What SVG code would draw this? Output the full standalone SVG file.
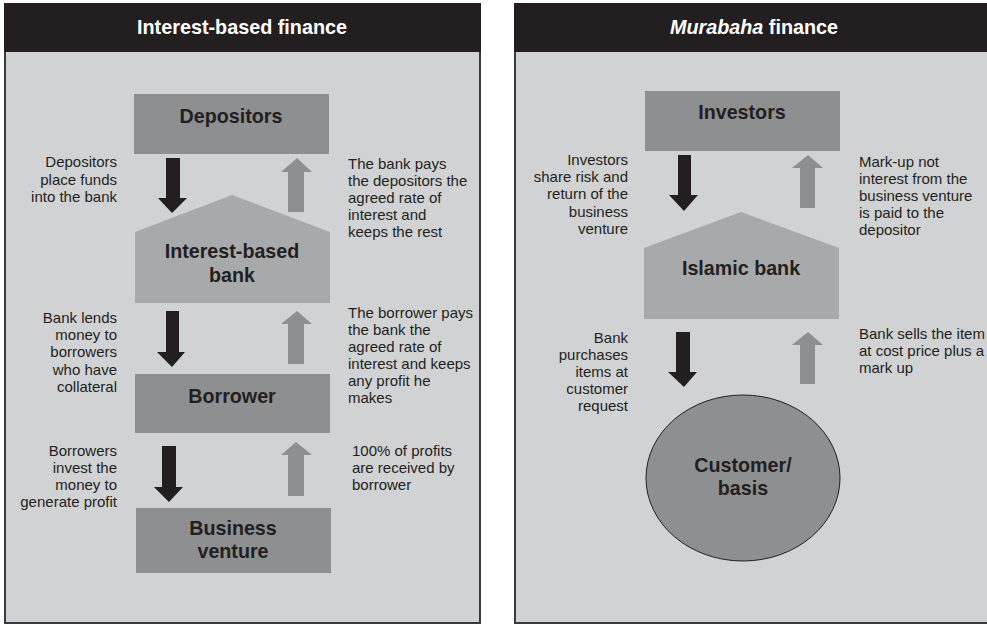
<svg xmlns="http://www.w3.org/2000/svg" width="987" height="624" viewBox="0 0 987 624">
<style>
.panel{fill:#d1d2d4;stroke:#3a3a3a;stroke-width:2}
.hdr{fill:#231f20}
.htxt{font-family:"Liberation Sans",Arial,sans-serif;font-weight:bold;font-size:19.8px;fill:#ffffff;text-anchor:middle}
.box{fill:#8e8f91}
.house{fill:#a7a9ab}
.ntxt{font-family:"Liberation Sans",Arial,sans-serif;font-weight:bold;font-size:19.7px;fill:#231f20;text-anchor:middle}
.lt{font-family:"Liberation Sans",Arial,sans-serif;font-size:15px;fill:#231f20;text-anchor:end}
.rt{font-family:"Liberation Sans",Arial,sans-serif;font-size:15px;fill:#231f20;text-anchor:start}
.down{fill:#231f20}
.up{fill:#8e8f91}
</style>
<rect width="987" height="624" fill="#ffffff"/>
<g id="panel-left">
<rect class="panel" x="5" y="4" width="475" height="619"/>
<rect class="hdr" x="4" y="3" width="477" height="49"/>
<text class="htxt" x="242" y="34">Interest-based finance</text>
</g>
<g id="panel-right">
<rect class="panel" x="515" y="4" width="474" height="619"/>
<rect class="hdr" x="514" y="3" width="473" height="49"/>
<text class="htxt" x="754" y="34"><tspan font-style="italic">Murabaha</tspan> finance</text>
</g>
<g id="depositors">
<rect class="box" x="134" y="94" width="195" height="60"/>
<text class="ntxt" x="231" y="123">Depositors</text>
</g>
<g id="interest-bank">
<polygon class="house" points="135,232 232,195 330,232 330,303 135,303"/>
<text class="ntxt" x="232" y="258">Interest-based</text>
<text class="ntxt" x="232" y="282">bank</text>
</g>
<g id="borrower">
<rect class="box" x="135" y="374" width="195" height="59"/>
<text class="ntxt" x="232" y="403">Borrower</text>
</g>
<g id="business-venture">
<rect class="box" x="136" y="508" width="195" height="65"/>
<text class="ntxt" x="233" y="535">Business</text>
<text class="ntxt" x="233" y="558">venture</text>
</g>
<g id="investors">
<rect class="box" x="645" y="91" width="195" height="60"/>
<text class="ntxt" x="742" y="119">Investors</text>
</g>
<g id="islamic-bank">
<polygon class="house" points="644,248 741,212 839,248 839,319 644,319"/>
<text class="ntxt" x="741" y="275">Islamic bank</text>
</g>
<g id="customer">
<ellipse cx="743" cy="478" rx="97" ry="83" fill="#8e8f91" stroke="#231f20" stroke-width="1"/>
<text class="ntxt" x="743" y="472">Customer/</text>
<text class="ntxt" x="743" y="495">basis</text>
</g>
<g id="connectors">
<polygon class="down" points="166,158 180,158 180,198 187,198 172,213 158,198 166,198"/>
<polygon class="up" points="297,158 312,172 304,172 304,212 288,212 288,172 281,172"/>
<polygon class="down" points="166,311 179,311 179,352 185,352 172,367 157,352 166,352"/>
<polygon class="up" points="297,311 312,324 304,324 304,364 288,364 288,324 281,324"/>
<polygon class="down" points="162,446 176,446 176,487 183,487 169,502 154,487 162,487"/>
<polygon class="up" points="296,442 312,455 304,455 304,496 288,496 288,455 281,455"/>
<polygon class="down" points="678,155 691,155 691,195 698,195 684,211 669,195 678,195"/>
<polygon class="up" points="808,155 823,168 815,168 815,208 800,208 800,168 792,168"/>
<polygon class="down" points="676,332 690,332 690,372 697,372 684,387 668,372 676,372"/>
<polygon class="up" points="808,332 823,345 815,345 815,384 800,384 800,345 792,345"/>
</g>
<g id="labels">
<text class="lt" x="117" y="167">Depositors</text>
<text class="lt" x="117" y="185">place funds</text>
<text class="lt" x="117" y="202">into the bank</text>
<text class="rt" x="348" y="169">The bank pays</text>
<text class="rt" x="348" y="186">the depositors the</text>
<text class="rt" x="348" y="203">agreed rate of</text>
<text class="rt" x="348" y="220">interest and</text>
<text class="rt" x="348" y="237">keeps the rest</text>
<text class="lt" x="117" y="323">Bank lends</text>
<text class="lt" x="117" y="340">money to</text>
<text class="lt" x="117" y="357">borrowers</text>
<text class="lt" x="117" y="375">who have</text>
<text class="lt" x="117" y="392">collateral</text>
<text class="rt" x="348" y="318">The borrower pays</text>
<text class="rt" x="348" y="335">the bank the</text>
<text class="rt" x="348" y="352">agreed rate of</text>
<text class="rt" x="348" y="369">interest and keeps</text>
<text class="rt" x="348" y="386">any profit he</text>
<text class="rt" x="348" y="403">makes</text>
<text class="lt" x="117" y="456">Borrowers</text>
<text class="lt" x="117" y="473">invest the</text>
<text class="lt" x="117" y="490">money to</text>
<text class="lt" x="117" y="507">generate profit</text>
<text class="rt" x="352" y="456">100% of profits</text>
<text class="rt" x="352" y="473">are received by</text>
<text class="rt" x="352" y="490">borrower</text>
<text class="lt" x="628" y="165">Investors</text>
<text class="lt" x="628" y="182">share risk and</text>
<text class="lt" x="628" y="199">return of the</text>
<text class="lt" x="628" y="217">business</text>
<text class="lt" x="628" y="234">venture</text>
<text class="rt" x="859" y="167">Mark-up not</text>
<text class="rt" x="859" y="184">interest from the</text>
<text class="rt" x="859" y="201">business venture</text>
<text class="rt" x="859" y="218">is paid to the</text>
<text class="rt" x="859" y="235">depositor</text>
<text class="lt" x="628" y="343">Bank</text>
<text class="lt" x="628" y="360">purchases</text>
<text class="lt" x="628" y="377">items at</text>
<text class="lt" x="628" y="394">customer</text>
<text class="lt" x="628" y="411">request</text>
<text class="rt" x="859" y="339">Bank sells the item</text>
<text class="rt" x="859" y="356">at cost price plus a</text>
<text class="rt" x="859" y="373">mark up</text>
</g>
</svg>
